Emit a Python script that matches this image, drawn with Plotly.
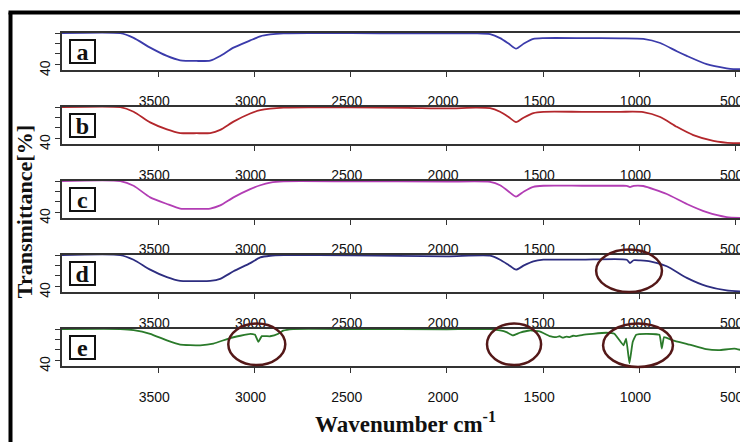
import plotly.graph_objects as go

# The page body adds an 8px margin, so the figure is sized to the visible area
OFF = 8
W, H = 748 - OFF, 442 - OFF

panel_labels = ["a", "b", "c", "d", "e"]
colors = ["#3b3bab", "#b3272c", "#b23db4", "#2d2d80", "#2a7a2a"]

wn_a = [4000, 3697, 3628, 3542, 3455, 3386, 3300, 3230, 3178, 3109, 3022, 2970, 2918, 2849, 2700, 2500, 2200, 2000, 1850, 1776,
        1724, 1680, 1641, 1600, 1551, 1499, 1300, 1100, 980, 892, 806, 754, 651, 547, 512, 436]
t_a = [100, 100, 91, 72, 56, 47.5, 46.3, 47, 56, 72, 86, 94, 97.5, 99.5, 100, 100, 99.5, 99.5, 99.5, 98,
       90.5, 80, 70, 80, 89, 90.5, 90.5, 90, 89, 81, 65, 56, 40, 32, 30.5, 30.3]

wn_b = [4000, 3697, 3628, 3542, 3455, 3386, 3300, 3230, 3178, 3109, 3022, 2970, 2918, 2849, 2700, 2500, 2200, 2000, 1850, 1776,
        1724, 1680, 1641, 1600, 1551, 1499, 1300, 1100, 980, 892, 806, 720, 616, 512, 436]
t_b = [100, 100, 91, 70.5, 57, 50, 49.6, 50, 56, 72, 87.7, 94, 97, 99, 99.5, 99.5, 98.5, 97.5, 99, 98,
       91, 81, 71, 80, 88.5, 91, 91, 91, 90.5, 81, 62, 46, 35, 30.5, 30.3]

wn_c = [4000, 3697, 3628, 3542, 3455, 3386, 3300, 3230, 3178, 3109, 3022, 2970, 2918, 2849, 2500, 2000, 1776,
        1724, 1680, 1641, 1600, 1551, 1499, 1300, 1100, 1066, 1049, 1030, 980, 858, 754, 651, 547, 436]
t_c = [100, 100, 91, 68.6, 55.8, 47, 46.3, 47, 53, 68.6, 84.4, 92, 97.2, 99.6, 99.5, 99, 98.5,
       92, 80, 70, 80, 89, 91, 91, 91, 90.8, 88.5, 90.8, 90.5, 75, 55.8, 40, 30.5, 28.8]

wn_d = [4000, 3697, 3628, 3542, 3455, 3386, 3300, 3230, 3178, 3109, 3022, 2970, 2918, 2849, 2500, 2000, 1776,
        1724, 1680, 1641, 1600, 1551, 1499, 1300, 1066, 1049, 1030, 997, 945, 858, 754, 651, 547, 436]
t_d = [100, 100, 91, 71.8, 57.2, 50, 49.6, 50, 54, 68.6, 84.4, 95.5, 98.7, 99.8, 99.3, 97.5, 98.7,
       91, 81, 71.8, 80, 87.9, 91, 91, 91, 84.5, 90, 89.6, 87.9, 78.3, 56, 40, 31.7, 29.1]

wn_e = [4000, 3697, 3628, 3542, 3455, 3386, 3282, 3213, 3127, 3022, 2997, 2980, 2962, 2919, 2876, 2851, 2799, 2500,
        2000, 1776, 1724, 1691, 1657, 1622, 1570, 1519, 1467, 1450, 1432, 1415, 1398, 1380, 1363, 1345, 1328, 1294,
        1242, 1173, 1130, 1083, 1069, 1052, 1035, 1017, 965, 896, 884, 872, 827, 740, 654, 585, 507, 436]
t_e = [100, 100, 98, 90.8, 78.2, 70, 68.6, 71.8, 82.5, 90.8, 89, 75, 86.3, 86, 90.8, 97, 100, 100,
       99.5, 100, 97.2, 94, 87.7, 92.8, 97.2, 95.3, 86.3, 85, 84.4, 86, 83.2, 85.5, 84.4, 87, 86.3, 88.9,
       90.8, 92.8, 90.8, 68.6, 81.4, 33.7, 74.9, 88.9, 90.8, 88.9, 62.3, 84.4, 78.2, 69.8, 61, 59.1, 62.3, 55.9]

series_wn = [wn_a, wn_b, wn_c, wn_d, wn_e]
series_t = [t_a, t_b, t_c, t_d, t_e]

x_ticks = [3500, 3000, 2500, 2000, 1500, 1000, 500]
y_ticks = [40, 60, 80, 100]
y_ticktext = ["40", "", "", ""]


def px(x):
    return (x - OFF) / W


def py(y):
    return 1 - (y - OFF) / H


# panel pixel extents in the reference (top, bottom)
panel_px = [(33, 71), (108, 146), (183, 221), (258, 296), (333, 371)]

fig = go.Figure()
layout = dict(
    width=W, height=H, margin=dict(l=0, r=0, t=0, b=0),
    paper_bgcolor="white", plot_bgcolor="white", showlegend=False,
)

tick_font = dict(family="Liberation Sans, Arial, sans-serif", size=14, color="#111")

for i in range(5):
    n = "" if i == 0 else str(i + 1)
    top, bot = panel_px[i]
    fig.add_trace(go.Scatter(
        x=series_wn[i], y=series_t[i], mode="lines",
        line=dict(color=colors[i], width=1.8, shape="spline", smoothing=0.6 if i < 4 else 0.3),
        xaxis="x" + n, yaxis="y" + n, hoverinfo="skip",
    ))
    layout["xaxis" + n] = dict(
        domain=[px(62), 1], range=[4000, 436], anchor="y" + n,
        showline=True, linecolor="#333", linewidth=1.5, mirror=True,
        ticks="outside", ticklen=5, tickcolor="#333", tickwidth=1.3,
        tickvals=x_ticks, ticktext=[str(v) for v in x_ticks],
        tickfont=tick_font, ticklabelstandoff=12, ticklabelshift=4,
        showgrid=False, zeroline=False,
    )
    layout["yaxis" + n] = dict(
        domain=[py(bot), py(top)], range=[28.6, 101], anchor="x" + n,
        showline=True, linecolor="#333", linewidth=1.5, mirror=False,
        ticks="outside", ticklen=5, tickcolor="#333", tickwidth=1.3,
        tickvals=y_ticks, ticktext=y_ticktext, tickangle=-90,
        tickfont=dict(family="Liberation Sans, sans-serif", size=14, color="#111"),
        ticklabelshift=6,
        showgrid=False, zeroline=False,
    )

annotations = []
for i, lab in enumerate(panel_labels):
    n = "" if i == 0 else str(i + 1)
    annotations.append(dict(
        text="<b>%s</b>" % lab, xref="paper", yref="y%s domain" % n, x=px(82), y=0.5,
        xanchor="center", yanchor="middle", showarrow=False,
        font=dict(family="Liberation Serif, serif", size=24, color="#111"),
        bordercolor="#111", borderwidth=2, borderpad=0, width=23, height=21, bgcolor="white",
    ))

annotations.append(dict(
    text="<b>Transmittance[%]</b>", xref="paper", yref="paper", x=px(24), y=py(215),
    xanchor="center", yanchor="middle", textangle=-90, showarrow=False,
    font=dict(family="Liberation Serif, serif", size=22, color="#111"),
))
annotations.append(dict(
    text="<b>Wavenumber cm<sup>-1</sup></b>", xref="paper", yref="paper", x=px(406), y=py(428),
    xanchor="center", yanchor="middle", showarrow=False,
    font=dict(family="Liberation Serif, serif", size=23, color="#111"),
))

# highlighted regions (wavenumber span, reference pixel y span)
ellipse_wn = [(1225, 883), (3136, 2840), (1792, 1511), (1189, 826)]
ellipse_axis = ["x4", "x5", "x5", "x5"]
ellipse_py = [(253, 296), (328, 370), (328, 370), (328, 372)]

shapes = []
for (w0, w1), ax, (p0, p1) in zip(ellipse_wn, ellipse_axis, ellipse_py):
    shapes.append(dict(type="circle", xref=ax, yref="paper", x0=w0, x1=w1,
                       y0=py(p1), y1=py(p0),
                       line=dict(color="#541818", width=2.5)))

# outer thick frame (left and top visible)
shapes.append(dict(type="line", xref="paper", yref="paper", x0=px(10.5), x1=px(10.5), y0=-0.05, y1=py(12.5),
                   line=dict(color="black", width=4)))
shapes.append(dict(type="line", xref="paper", yref="paper", x0=px(8.5), x1=1.05, y0=py(12.5), y1=py(12.5),
                   line=dict(color="black", width=4)))

layout["annotations"] = annotations
layout["shapes"] = shapes
fig.update_layout(**layout)
fig.write_html("out.html")
